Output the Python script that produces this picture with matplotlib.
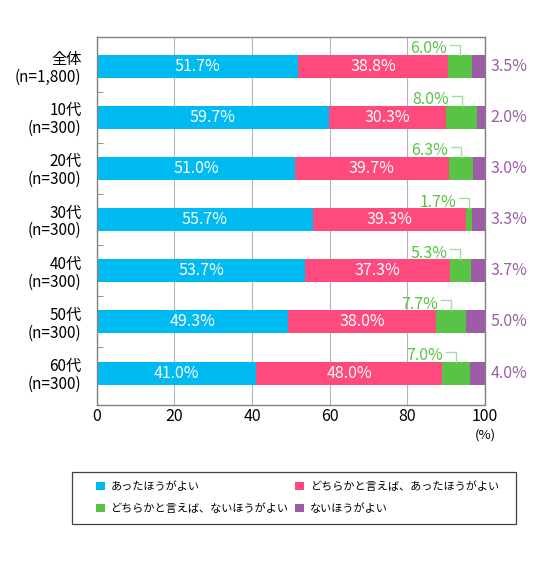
import matplotlib
matplotlib.use("Agg")
import matplotlib.pyplot as plt
from matplotlib.patches import Patch, Rectangle

plt.rcParams['font.family'] = ['Noto Sans CJK JP', 'DejaVu Sans']

# data
groups = ['全体\n(n=1,800)', '10代\n(n=300)', '20代\n(n=300)', '30代\n(n=300)',
          '40代\n(n=300)', '50代\n(n=300)', '60代\n(n=300)']
yes = [51.7, 59.7, 51.0, 55.7, 53.7, 49.3, 41.0]
rather_yes = [38.8, 30.3, 39.7, 39.3, 37.3, 38.0, 48.0]
rather_no = [6.0, 8.0, 6.3, 1.7, 5.3, 7.7, 7.0]
no = [3.5, 2.0, 3.0, 3.3, 3.7, 5.0, 4.0]
series_names = ['あったほうがよい', 'どちらかと言えば、あったほうがよい',
                'どちらかと言えば、ないほうがよい', 'ないほうがよい']
colors = ['#00BAF2', '#FF4A7D', '#58C345', '#9E5BA8']

fig = plt.figure(figsize=(5.5, 5.61), dpi=100)
ax = fig.add_axes([0.176, 0.278, 0.706, 0.656])

ys = list(range(len(groups)))
h = 0.45
left = [0.0] * len(groups)
for vals, col in zip([yes, rather_yes, rather_no, no], colors):
    ax.barh(ys, vals, left=left, height=h, color=col, zorder=2)
    left = [l + v for l, v in zip(left, vals)]

fs = 11.5
for i in ys:
    # white labels inside
    ax.text(yes[i] / 2, i, f'{yes[i]:.1f}%', color='white', ha='center', va='center',
            fontsize=fs, zorder=3)
    ax.text(yes[i] + rather_yes[i] / 2, i, f'{rather_yes[i]:.1f}%', color='white',
            ha='center', va='center', fontsize=fs, zorder=3)
    # green label with leader line
    gx = yes[i] + rather_yes[i] + rather_no[i] / 2
    ax.plot([gx - 2.6, gx, gx], [i - 0.42, i - 0.42, i - h / 2], color='#A8DCA0',
            lw=1, zorder=3, clip_on=False)
    ax.text(gx - 3.3, i - 0.34, f'{rather_no[i]:.1f}%', color='#58C345', ha='right',
            va='center', fontsize=fs, zorder=3)
    # purple label outside
    ax.text(101.3, i, f'{no[i]:.1f}%', color='#9E5BA8', ha='left', va='center',
            fontsize=fs, clip_on=False)

ax.set_xlim(0, 100)
ax.set_ylim(6.625, -0.567)
ax.set_xticks([0, 20, 40, 60, 80, 100])
ax.tick_params(axis='x', length=0, labelsize=11.5, pad=2)
ax.set_yticks(ys)
ax.set_yticklabels(groups, fontsize=11, ha='right', linespacing=1.05)
ax.tick_params(axis='y', length=0, pad=11)
ax.set_yticks([y + 0.5 for y in ys[:-1]], minor=True)
ax.tick_params(axis='y', which='minor', direction='in', length=4, color='#808080')
ax.grid(axis='x', color='#B5B5B5', lw=0.8, zorder=0)
for s in ax.spines.values():
    s.set_color('#808080')
    s.set_linewidth(1)

ax.text(100, 6.625 + 0.45, '(%)', ha='center', va='top', fontsize=9.5)

# legend box
fig.patches.append(Rectangle((72 / 550, 1 - 524 / 561), 444 / 550, 52 / 561,
                             transform=fig.transFigure, fill=False,
                             edgecolor='#404040', lw=0.9))
handles = [Patch(facecolor=c, edgecolor='none') for c in colors]
order = [0, 2, 1, 3]
fig.legend([handles[k] for k in order], [series_names[k] for k in order],
           loc='upper left', bbox_to_anchor=(96 / 550, 1 - 481 / 561),
           ncol=2, fontsize=8, frameon=False,
           handlelength=0.8, handleheight=0.8, handletextpad=0.5,
           borderpad=0, borderaxespad=0, labelspacing=1.0, columnspacing=0.6)

fig.savefig('out.png', dpi=100)
